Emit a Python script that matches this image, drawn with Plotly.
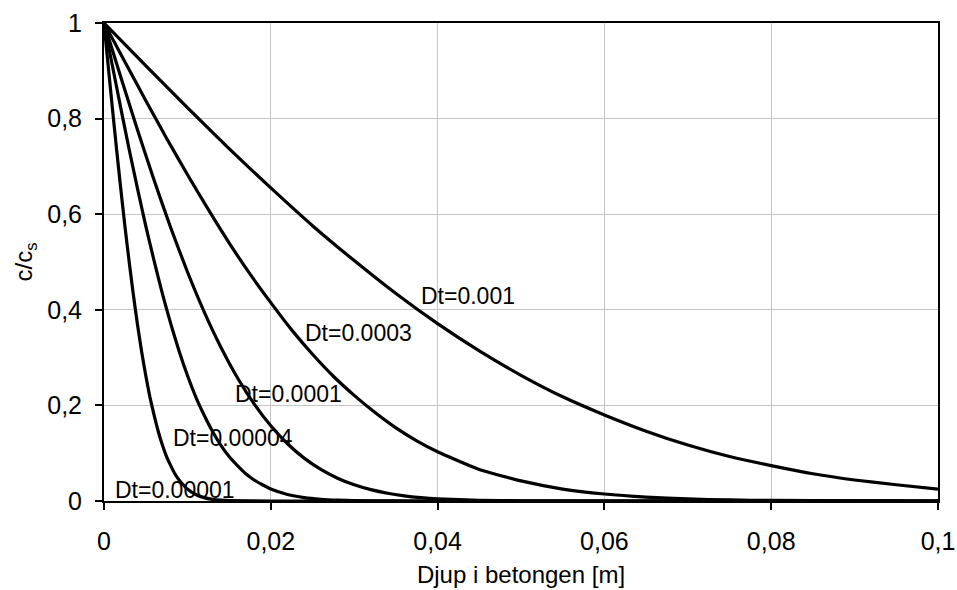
import plotly.graph_objects as go

# Depth in concrete [m] and relative concentration c/cs
x_dt_0001 = [0, 0.005, 0.01, 0.015, 0.02, 0.025, 0.03, 0.035, 0.04, 0.045, 0.05,
             0.055, 0.06, 0.065, 0.07, 0.075, 0.08, 0.085, 0.09, 0.095, 0.1]
y_dt_0001 = [1, 0.911, 0.823, 0.737, 0.655, 0.576, 0.503, 0.434, 0.371, 0.314, 0.263,
             0.218, 0.180, 0.146, 0.117, 0.093, 0.074, 0.057, 0.044, 0.034, 0.025]

x_dt_00003 = [0, 0.0025, 0.005, 0.0075, 0.01, 0.0125, 0.015, 0.0175, 0.02, 0.0225,
              0.025, 0.0275, 0.03, 0.0325, 0.035, 0.0375, 0.04, 0.045, 0.05, 0.055,
              0.06, 0.065, 0.07, 0.075, 0.08, 0.09, 0.1]
y_dt_00003 = [1, 0.919, 0.838, 0.759, 0.683, 0.610, 0.540, 0.475, 0.415, 0.358,
              0.307, 0.261, 0.221, 0.185, 0.153, 0.126, 0.103, 0.066, 0.042, 0.025,
              0.0146, 0.0081, 0.0043, 0.0022, 0.0011, 0.0002, 0.0]

x_dt_00001 = [0, 0.002, 0.004, 0.006, 0.008, 0.01, 0.012, 0.014, 0.016, 0.018, 0.02,
              0.022, 0.024, 0.026, 0.028, 0.03, 0.032, 0.034, 0.036, 0.038, 0.04,
              0.045, 0.05, 0.06, 0.08, 0.1]
y_dt_00001 = [1, 0.8875, 0.7773, 0.6714, 0.5716, 0.4795, 0.3961, 0.3222, 0.2579,
              0.2031, 0.1573, 0.1198, 0.0897, 0.0660, 0.0477, 0.0339, 0.0237, 0.0162,
              0.0109, 0.0072, 0.0047, 0.0015, 0.0004, 0.0, 0.0, 0.0]

x_dt_000004 = [0, 0.001, 0.002, 0.003, 0.004, 0.005, 0.006, 0.007, 0.008, 0.009,
               0.01, 0.011, 0.012, 0.013, 0.014, 0.015, 0.016, 0.017, 0.018, 0.019,
               0.02, 0.022, 0.024, 0.026, 0.028, 0.03, 0.035, 0.04, 0.1]
y_dt_000004 = [1, 0.911, 0.823, 0.737, 0.655, 0.576, 0.503, 0.434, 0.371, 0.314,
               0.263, 0.218, 0.180, 0.146, 0.117, 0.093, 0.074, 0.057, 0.044, 0.034,
               0.025, 0.0135, 0.0070, 0.0035, 0.0017, 0.0008, 0.0001, 0.0, 0.0]

x_dt_000001 = [0, 0.0005, 0.001, 0.0015, 0.002, 0.0025, 0.003, 0.0035, 0.004, 0.0045,
               0.005, 0.0055, 0.006, 0.0065, 0.007, 0.0075, 0.008, 0.0085, 0.009,
               0.0095, 0.01, 0.011, 0.012, 0.013, 0.014, 0.015, 0.02, 0.1]
y_dt_000001 = [1, 0.911, 0.823, 0.737, 0.655, 0.576, 0.503, 0.434, 0.371, 0.314,
               0.263, 0.218, 0.180, 0.146, 0.117, 0.093, 0.074, 0.057, 0.044,
               0.034, 0.025, 0.0135, 0.0070, 0.0035, 0.0017, 0.0008, 0.0, 0.0]

series = [
    ("Dt=0.001", x_dt_0001, y_dt_0001),
    ("Dt=0.0003", x_dt_00003, y_dt_00003),
    ("Dt=0.0001", x_dt_00001, y_dt_00001),
    ("Dt=0.00004", x_dt_000004, y_dt_000004),
    ("Dt=0.00001", x_dt_000001, y_dt_000001),
]

# curve labels: text, x, y (data coordinates)
label_text = ["Dt=0.001", "Dt=0.0003", "Dt=0.0001", "Dt=0.00004", "Dt=0.00001"]
label_x = [0.0378, 0.0239, 0.0155, 0.0080, 0.0011]
label_y = [0.429, 0.351, 0.224, 0.132, 0.023]

x_ticks = [0, 0.02, 0.04, 0.06, 0.08, 0.1]
y_ticks = [0, 0.2, 0.4, 0.6, 0.8, 1]

FONT = "Liberation Sans, Arial, sans-serif"

fig = go.Figure()
for name, xs, ys in series:
    fig.add_trace(go.Scatter(
        x=xs, y=ys, mode="lines", name=name,
        line=dict(color="black", width=3.2, shape="spline", smoothing=0.5),
        showlegend=False,
    ))

for t, ax, ay in zip(label_text, label_x, label_y):
    fig.add_annotation(x=ax, y=ay, text=t, showarrow=False, xanchor="left",
                       yanchor="middle", font=dict(family=FONT, size=23, color="black"))

fig.update_layout(
    width=957, height=590,
    margin=dict(l=104, r=19, t=23, b=89),
    paper_bgcolor="white", plot_bgcolor="white",
    separators=", ",
    font=dict(family=FONT, size=25, color="black"),
)
fig.update_xaxes(
    range=[0, 0.1], tickvals=x_ticks, showgrid=True, gridcolor="#c4c4c4", gridwidth=1,
    showline=True, linecolor="black", linewidth=2, mirror=True,
    ticks="outside", ticklen=7, tickcolor="black", tickwidth=2,
    tickfont=dict(size=25), zeroline=False, automargin=False, ticklabelstandoff=10,
    title=dict(text="Djup i betongen [m]", font=dict(size=24), standoff=12),
)
fig.update_yaxes(
    range=[0, 1], tickvals=y_ticks, showgrid=True, gridcolor="#c4c4c4", gridwidth=1,
    showline=True, linecolor="black", linewidth=2, mirror=True,
    ticks="outside", ticklen=7, tickcolor="black", tickwidth=2,
    tickfont=dict(size=25), zeroline=False, ticklabelstandoff=8, automargin=False,
    title=dict(text="c/c<sub>s</sub>", font=dict(size=24), standoff=8),
)

fig.write_html("out.html", config={"displayModeBar": False},
               post_script="document.body.style.margin='0';document.body.style.padding='0';")
